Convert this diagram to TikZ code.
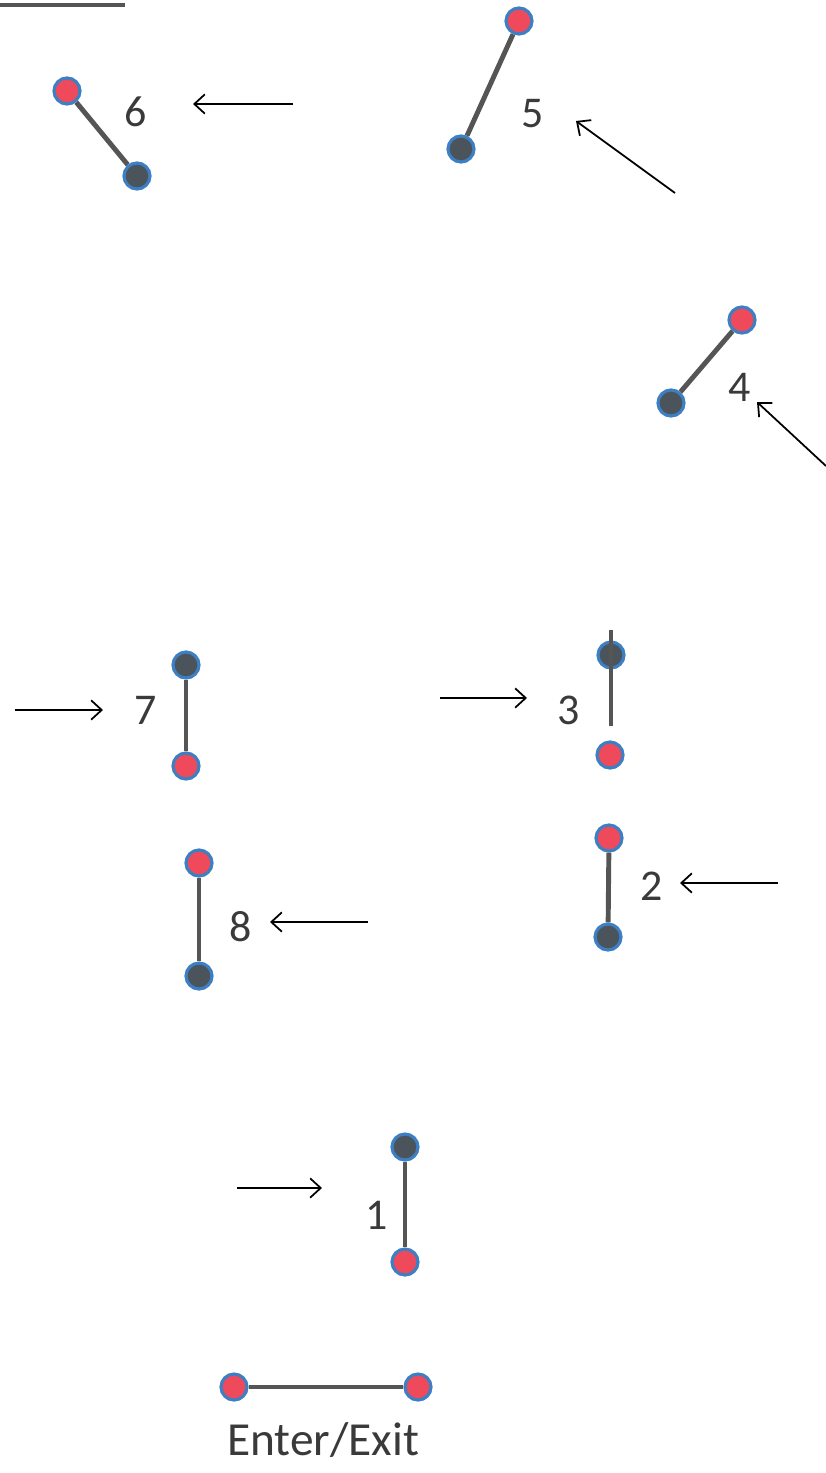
\documentclass[tikz,border=0pt]{standalone}
\usepackage{fontspec}
\setmainfont{Carlito}
\usetikzlibrary{arrows.meta}
\definecolor{ringblue}{HTML}{3C7FC2}
\definecolor{endred}{HTML}{EE4A5C}
\definecolor{enddark}{HTML}{4B535B}
\definecolor{rodgrey}{HTML}{555555}
\definecolor{numgrey}{HTML}{3A3A3A}
\tikzset{
  redend/.style={circle,minimum size=26*0.02cm,inner sep=0pt,fill=endred,draw=ringblue,line width=1.8pt},
  darkend/.style={circle,minimum size=26*0.02cm,inner sep=0pt,fill=enddark,draw=ringblue,line width=1.8pt},
  link/.style={draw=rodgrey,line width=2.8pt},
  num/.style={font=\fontsize{25}{25}\selectfont,text=numgrey,inner sep=0pt},
  move/.style={-{Straight Barb[length=6pt,width=11pt]},line width=1pt}
}
\begin{document}
\begin{tikzpicture}[x=0.02cm,y=-0.02cm]
\useasboundingbox (0,0) rectangle (825,1473);
% heading underline (cut off)
\draw[rodgrey,line width=2pt] (0,5) -- (125,5);

% position 6
\node[redend] (r6) at (67,91) {};
\node[darkend] (d6) at (137,176) {};
\draw[link] (r6) -- (d6);
\node[num] (n6) at (136,112) {6};
\coordinate (s6) at (293,104);
\coordinate (e6) at (193,104);
\draw[move] (s6) -- (e6);

% position 5
\node[redend] (r5) at (519,21) {};
\node[darkend] (d5) at (461,149) {};
\draw[link] (r5) -- (d5);
\node[num] (n5) at (533,114) {5};
\coordinate (s5) at (675,193);
\coordinate (e5) at (576,121);
\draw[move] (s5) -- (e5);

% position 4
\node[redend] (r4) at (742,320) {};
\node[darkend] (d4) at (671,403) {};
\draw[link] (r4) -- (d4);
\node[num] (n4) at (740,387) {4};
\coordinate (s4) at (826,466);
\coordinate (e4) at (757,402);
\draw[move] (s4) -- (e4);

% position 7
\node[darkend] (d7) at (186,665) {};
\node[redend] (r7) at (186,766) {};
\draw[link] (d7) -- (r7);
\node[num] (n7) at (146,710) {7};
\coordinate (s7) at (15,710);
\coordinate (e7) at (103,710);
\draw[move] (s7) -- (e7);

% position 3
\node[darkend] (d3) at (611,655) {};
\node[redend] (r3) at (610,755) {};
\coordinate (t3) at (611,630);
\coordinate (b3) at (611,726);
\draw[link] (t3) -- (b3);
\node[num] (n3) at (569,710) {3};
\coordinate (s3) at (440,698);
\coordinate (e3) at (527,698);
\draw[move] (s3) -- (e3);

% position 8
\node[redend] (r8) at (199,863) {};
\node[darkend] (d8) at (199,976) {};
\draw[link] (r8) -- (d8);
\node[num] (n8) at (241,927) {8};
\coordinate (s8) at (368,922);
\coordinate (e8) at (270,922);
\draw[move] (s8) -- (e8);

% position 2
\node[redend] (r2) at (609,838) {};
\node[darkend] (d2) at (608,937) {};
\draw[link] (r2) -- (d2);
\node[num] (n2) at (652,886) {2};
\coordinate (s2) at (778,883);
\coordinate (e2) at (680,883);
\draw[move] (s2) -- (e2);

% position 1
\node[darkend] (d1) at (405,1147) {};
\node[redend] (r1) at (405,1262) {};
\draw[link] (d1) -- (r1);
\node[num] (n1) at (377,1215) {1};
\coordinate (s1) at (237,1188);
\coordinate (e1) at (322,1188);
\draw[move] (s1) -- (e1);

% enter / exit
\node[redend] (ra) at (234,1387) {};
\node[redend] (rb) at (418,1387) {};
\draw[link] (ra) -- (rb);
\node[num,font=\fontsize{27}{27}\selectfont] (gate) at (323,1440) {Enter/Exit};
\end{tikzpicture}
\end{document}
